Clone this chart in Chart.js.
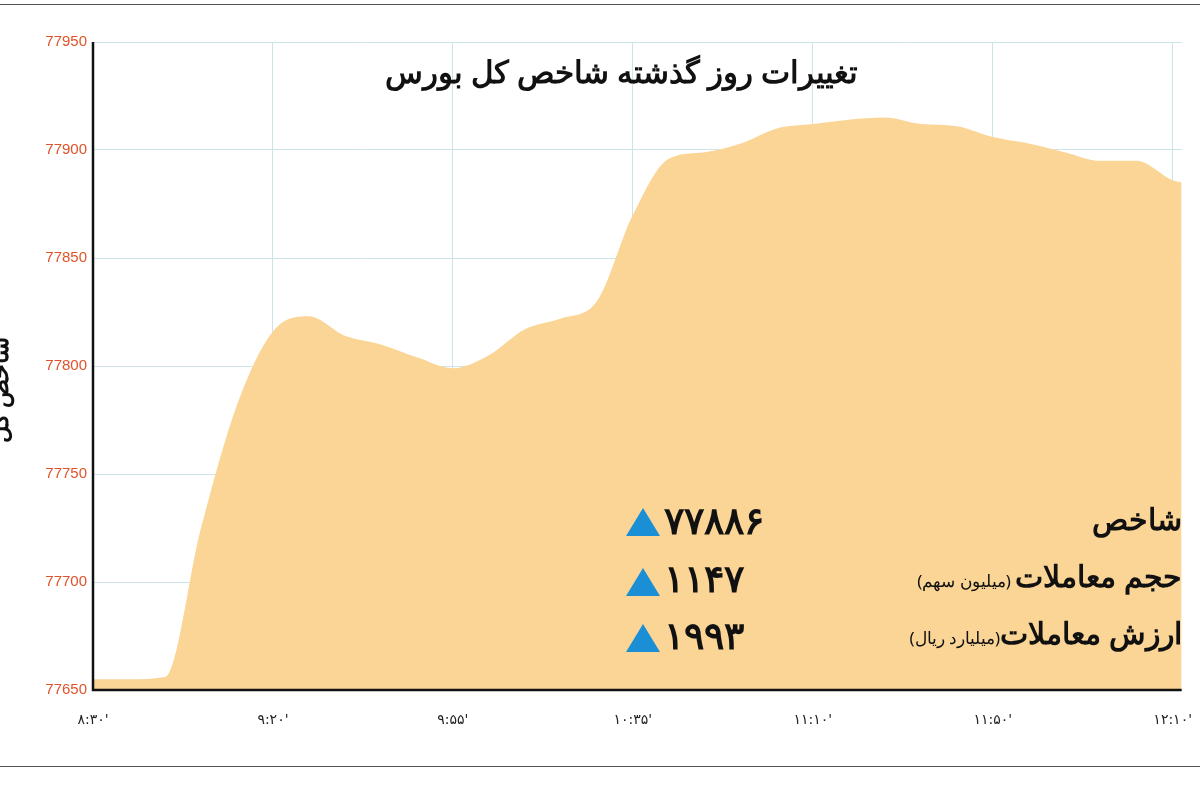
<!DOCTYPE html>
<html><head><meta charset="utf-8">
<script src="https://cdn.jsdelivr.net/npm/chart.js@4/dist/chart.umd.min.js"></script>
<style>
body{margin:0;background:#fff;width:1200px;height:800px;overflow:hidden;position:relative;font-family:"Noto Sans",sans-serif}
#wrap{position:absolute;left:0;top:0;width:1200px;height:800px;overflow:hidden}
.t{position:absolute;direction:rtl;white-space:nowrap;color:#111;font-weight:bold}
.tri{position:absolute;width:0;height:0;border-left:17px solid transparent;border-right:17px solid transparent;border-bottom:28px solid #1a8fd6}
.n{position:absolute;font-weight:bold;font-size:38px;color:#111;line-height:1}
.line{position:absolute;left:0;width:1200px;height:1px;background:#555}
</style></head><body>
<div class="line" style="top:4px"></div>
<div class="line" style="top:766px"></div>
<div id="wrap"><canvas id="c" width="1214" height="800"></canvas></div>
<div class="t" style="left:385px;top:50px;font-size:31px">تغییرات روز گذشته شاخص کل بورس</div>
<div class="t" style="right:18px;top:498px;font-size:30px">شاخص</div>
<div class="t" style="right:18px;top:555px;font-size:30px">حجم معاملات<span style="font-size:17px;font-weight:normal"> (میلیون سهم)</span></div>
<div class="t" style="right:18px;top:612px;font-size:30px">ارزش معاملات<span style="font-size:17px;font-weight:normal">(میلیارد ریال)</span></div>
<div class="tri" style="left:626px;top:508px"></div>
<div class="tri" style="left:626px;top:568px"></div>
<div class="tri" style="left:626px;top:624px"></div>
<div class="n" style="left:664px;top:500px">۷۷۸۸۶</div>
<div class="n" style="left:664px;top:558px">۱۱۴۷</div>
<div class="n" style="left:664px;top:615px">۱۹۹۳</div>
<script>
const values=[77655,77655,77656,77725,77782,77816,77823,77814,77810,77804,77799,77805,77817,77822,77830,77870,77896,77899,77903,77910,77912,77914,77915,77912,77911,77906,77903,77899,77895,77895,77886,77885];
const xPos=[0,1,2,3,4,5,6,7,8,9,10,11,12,13,14,15,16,17,18,19,20,21,22,23,24,25,26,27,28,29,30,30.25];
const tickIdx=[0,5,10,15,20,25,30];
const tickLabels=["۸:۳۰'","۹:۲۰'","۹:۵۵'","۱۰:۳۵'","۱۱:۱۰'","۱۱:۵۰'","۱۲:۱۰'"];
const yTicks=[77650,77700,77750,77800,77850,77900,77950];
const sideLabel={id:'side',afterDraw(ch){const c=ch.ctx;c.save();c.translate(8,390);c.rotate(-Math.PI/2);c.font='bold 24px "Noto Sans"';c.fillStyle='#111';c.textAlign='center';c.direction='rtl';c.fillText('شاخص کل',0,0);c.restore();
 const a=ch.chartArea;c.save();c.strokeStyle='#111';c.lineWidth=2.5;c.beginPath();c.moveTo(a.left,a.top);c.lineTo(a.left,a.bottom);c.lineTo(a.right,a.bottom);c.stroke();c.restore();}};
new Chart(document.getElementById('c'),{type:'line',
data:{datasets:[{data:xPos.map((x,i)=>({x:x,y:values[i]})),fill:'start',backgroundColor:'#fbd596',borderWidth:0,pointRadius:0,cubicInterpolationMode:'monotone'}]},
options:{responsive:false,animation:false,layout:{padding:{top:42,right:0,bottom:70,left:0}},
plugins:{legend:{display:false},tooltip:{enabled:false}},
scales:{
x:{type:'linear',min:0,max:30.25,afterFit(s){s.height=40},afterBuildTicks(s){s.ticks=tickIdx.map(v=>({value:v}))},
 ticks:{autoSkip:false,maxRotation:0,padding:22,color:'#222',font:{size:14,family:'"DejaVu Sans"'},callback:(v)=>{const k=tickIdx.indexOf(v);return k>=0?tickLabels[k]:''}},
 grid:{color:'#cfe3ea',lineWidth:1,drawTicks:false},border:{display:false}},
y:{min:77650,max:77950,afterFit(s){s.width=93},afterBuildTicks(s){s.ticks=yTicks.map(v=>({value:v}))},
 ticks:{color:'#e0522a',font:{size:15},padding:6,callback:v=>String(v)},grid:{color:'#cfe3ea',drawTicks:false},border:{display:false}}
}},plugins:[sideLabel]});
</script></body></html>
